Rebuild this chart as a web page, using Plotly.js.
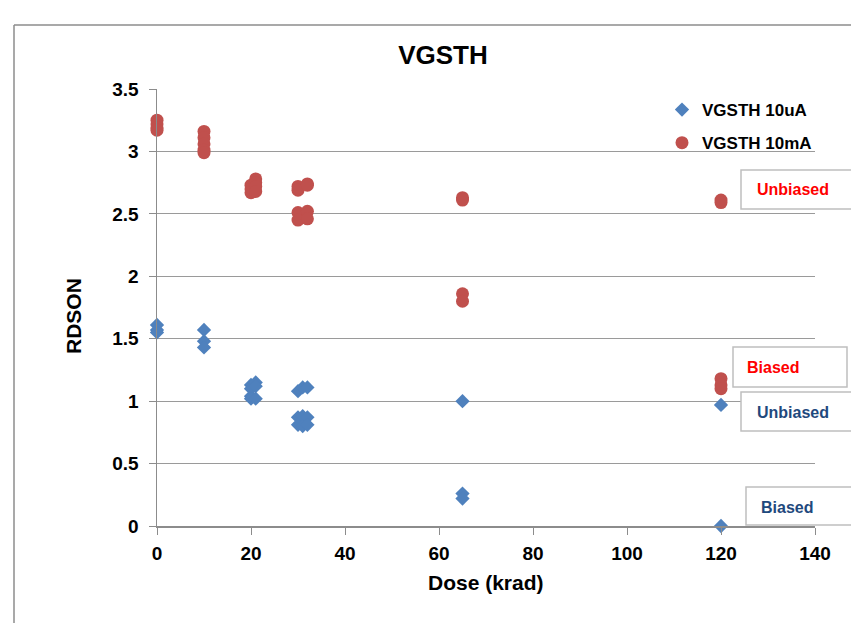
<!DOCTYPE html>
<html>
<head>
<meta charset="utf-8">
<script src="https://cdn.plot.ly/plotly-3.0.1.min.js"></script>
<style>html,body{margin:0;padding:0;background:#fff}#chart{width:851px;height:623px}</style>
</head>
<body>
<div id="chart"></div>
<script>
// Series VGSTH 10uA (blue diamonds)
const uaDose = [0,0,0, 10,10,10, 20,20,20,20, 21,21,21, 30,30,30, 31,31,31, 32,32,32, 65,65,65, 120,120];
const uaRdson = [1.61,1.57,1.55, 1.57,1.48,1.43, 1.13,1.10,1.04,1.02, 1.15,1.12,1.02, 1.08,0.87,0.81, 1.11,0.88,0.80, 1.11,0.87,0.81, 1.00,0.26,0.22, 0.97,0.00];
// Series VGSTH 10mA (red circles)
const maDose = [0,0,0,0, 10,10,10,10,10, 20,20,20, 21,21,21,21, 30,30,30,30, 32,32,32,32, 65,65,65,65, 120,120,120,120,120];
const maRdson = [3.25,3.22,3.19,3.17, 3.16,3.11,3.06,3.01,2.99, 2.73,2.70,2.67, 2.78,2.75,2.72,2.68, 2.72,2.69,2.51,2.45, 2.74,2.73,2.52,2.46, 2.63,2.61,1.86,1.80, 2.61,2.59,1.18,1.13,1.10];
const seriesNames = ["VGSTH 10uA", "VGSTH 10mA"];
const xTicks = [0,20,40,60,80,100,120,140];
const yTicks = [0,0.5,1,1.5,2,2.5,3,3.5];
const yTickText = ["0","0.5","1","1.5","2","2.5","3","3.5"];
const labelTexts = ["Unbiased","Biased","Unbiased","Biased"];

const FONT = "Liberation Sans, Arial, sans-serif";
const L = 157, R = 815, T = 89, B = 526;
const px = v => (v - L) / (R - L);
const py = v => (B - v) / (B - T);

const traces = [
  {x: uaDose, y: uaRdson, name: seriesNames[0], type: "scatter", mode: "markers", legendgroup: "a",
   marker: {symbol: "diamond", size: 11, color: "#4F81BD"}, cliponaxis: false},
  {x: maDose, y: maRdson, name: seriesNames[1], type: "scatter", mode: "markers", legendgroup: "b",
   marker: {symbol: "circle", size: 13, color: "#C0504D"}, cliponaxis: false}
];

const boxes = [
  [741, 880, 170, 209],
  [733, 847, 347, 387],
  [741, 880, 392, 431],
  [746, 880, 487, 525]
];
const shapes = boxes.map(b => ({type: "rect", xref: "paper", yref: "paper",
  x0: px(b[0]), x1: px(b[1]), y0: py(b[3]), y1: py(b[2]),
  line: {color: "#BFBFBF", width: 1.5}, fillcolor: "#FFFFFF", layer: "above"}));
shapes.push({type: "line", xref: "paper", yref: "paper", x0: px(14), x1: px(14), y0: py(640), y1: py(25), line: {color: "#8C8C8C", width: 1.5}});
shapes.push({type: "line", xref: "paper", yref: "paper", x0: px(14), x1: px(900), y0: py(25), y1: py(25), line: {color: "#8C8C8C", width: 1.5}});

const labelPos = [[793,189,"#FF0000"],[773,367,"#FF0000"],[793,412,"#1F497D"],[787,507,"#1F497D"]];
const annotations = labelTexts.map((t,i) => ({xref: "paper", yref: "paper", x: px(labelPos[i][0]), y: py(labelPos[i][1]),
  xanchor: "center", yanchor: "middle", text: t, showarrow: false,
  font: {family: FONT, size: 16, weight: "bold", color: labelPos[i][2]}}));
annotations.push({xref: "paper", yref: "paper", x: px(73), y: py(316), xanchor: "center", yanchor: "middle",
  text: "RDSON", textangle: -90, showarrow: false, font: {family: FONT, size: 21, weight: "bold", color: "#000"}});
annotations.push({xref: "paper", yref: "paper", x: px(486), y: py(582), xanchor: "center", yanchor: "middle",
  text: "Dose (krad)", showarrow: false, font: {family: FONT, size: 21, weight: "bold", color: "#000"}});

const layout = {
  width: 851, height: 623,
  margin: {l: L, r: 851 - R, t: T, b: 623 - B, pad: 0},
  paper_bgcolor: "#FFFFFF", plot_bgcolor: "#FFFFFF",
  title: {text: "VGSTH", x: px(443), xref: "paper", xanchor: "center", y: 1 - 55/623, yanchor: "middle",
    font: {family: FONT, size: 26, weight: "bold", color: "#000"}},
  xaxis: {range: [0, 140], tickvals: xTicks, ticktext: xTicks.map(String), showgrid: false, zeroline: false,
    showline: true, linecolor: "#8C8C8C", linewidth: 1.5, ticks: "outside", ticklen: 7, tickcolor: "#8C8C8C",
    ticklabelstandoff: 3,
    tickfont: {family: FONT, size: 19, weight: "bold", color: "#000"}},
  yaxis: {range: [0, 3.5], tickvals: yTicks, ticktext: yTickText, showgrid: true, gridcolor: "#9A9A9A", gridwidth: 1.2,
    zeroline: false, showline: true, linecolor: "#8C8C8C", linewidth: 1.5, ticks: "outside", ticklen: 7, tickcolor: "#8C8C8C",
    ticklabelstandoff: 6,
    tickfont: {family: FONT, size: 19, weight: "bold", color: "#000"}},
  legend: {x: px(662), y: py(92), xanchor: "left", yanchor: "top", bgcolor: "rgba(0,0,0,0)",
    traceorder: "grouped", tracegroupgap: 8,
    font: {family: FONT, size: 17, weight: "bold", color: "#000"}},
  shapes: shapes,
  annotations: annotations
};

Plotly.newPlot("chart", traces, layout, {displayModeBar: false, staticPlot: true});
</script>
</body>
</html>
